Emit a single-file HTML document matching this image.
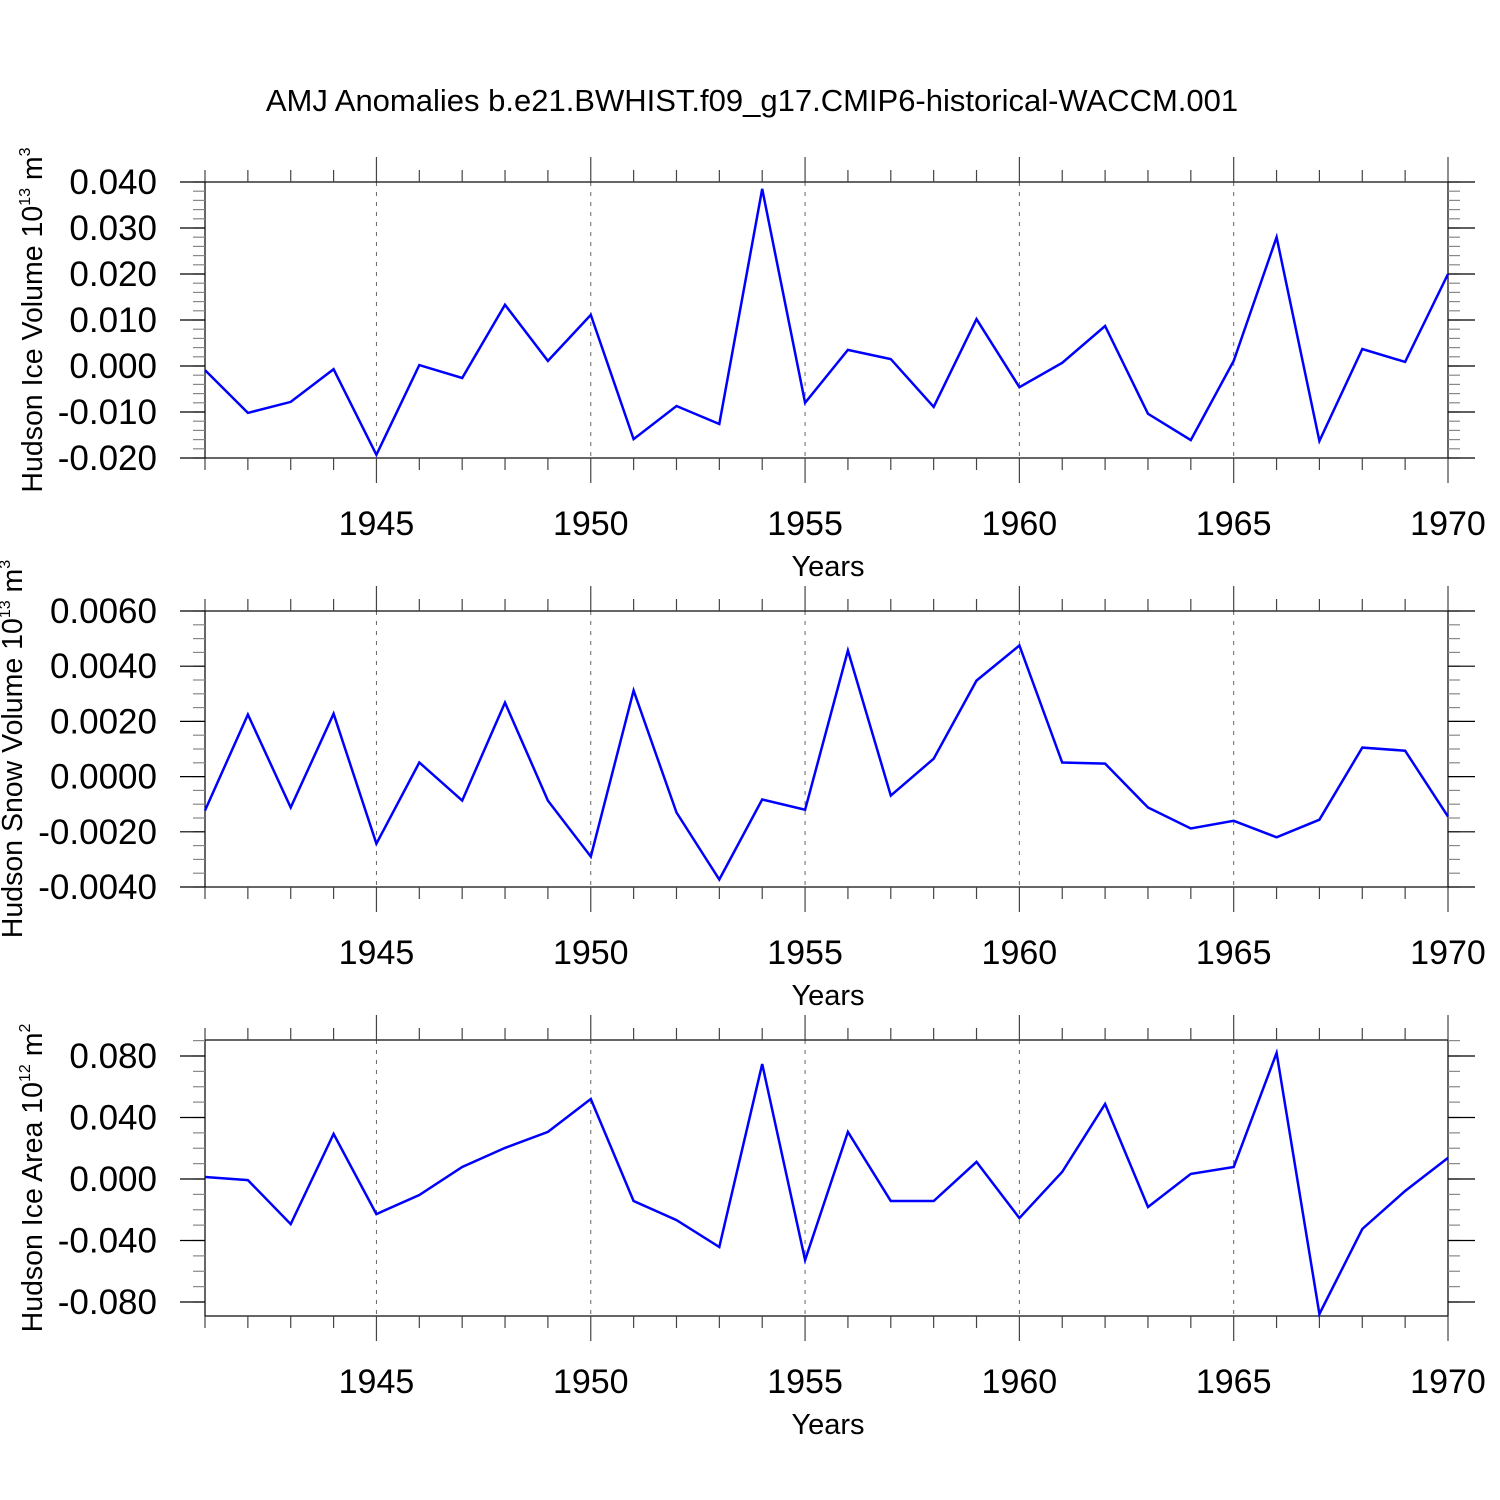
<!DOCTYPE html>
<html><head><meta charset="utf-8"><style>body{margin:0;background:#fff}svg{display:block}text{font-family:"Liberation Sans",sans-serif;fill:#000}</style></head>
<body>
<svg id="c" width="1500" height="1500" viewBox="0 0 1500 1500">
<text x="752" y="111" font-size="31" text-anchor="middle">AMJ Anomalies b.e21.BWHIST.f09_g17.CMIP6-historical-WACCM.001</text>
</svg>
<script>
const years = [1941,1942,1943,1944,1945,1946,1947,1948,1949,1950,1951,1952,1953,1954,1955,1956,1957,1958,1959,1960,1961,1962,1963,1964,1965,1966,1967,1968,1969,1970];
const iceVolume = [-0.0009,-0.0102,-0.0078,-0.0007,-0.0193,0.0002,-0.0026,0.0133,0.0011,0.0111,-0.0159,-0.0087,-0.0126,0.0385,-0.0080,0.0035,0.0015,-0.0089,0.0102,-0.0046,0.0007,0.0087,-0.0104,-0.0161,0.0011,0.0280,-0.0163,0.0037,0.0009,0.0200];
const snowVolume = [-0.00123,0.00225,-0.00112,0.00228,-0.00243,0.00051,-0.00087,0.00268,-0.00087,-0.0029,0.00312,-0.0013,-0.00373,-0.00083,-0.0012,0.00457,-0.00069,0.00065,0.00348,0.00475,0.00051,0.00047,-0.00112,-0.00188,-0.0016,-0.0022,-0.00156,0.00105,0.00094,-0.00145];
const iceArea = [0.0013,-0.0007,-0.0293,0.0293,-0.0228,-0.0104,0.0078,0.0202,0.0306,0.052,-0.0143,-0.0267,-0.0442,0.0748,-0.0527,0.0306,-0.0143,-0.0143,0.0111,-0.0254,0.0046,0.0488,-0.0182,0.0033,0.0078,0.082,-0.0878,-0.0325,-0.0078,0.0137];
const xTickLabels = [1945,1950,1955,1960,1965,1970];
const volTicks = ["0.040","0.030","0.020","0.010","0.000","-0.010","-0.020"];
const snowTicks = ["0.0060","0.0040","0.0020","0.0000","-0.0020","-0.0040"];
const areaTicks = ["0.080","0.040","0.000","-0.040","-0.080"];

const svg = document.getElementById('c');
const NS = 'http://www.w3.org/2000/svg';
function mk(tag, attrs, parent){const e=document.createElementNS(NS,tag);for(const k in attrs)e.setAttribute(k,attrs[k]);(parent||svg).appendChild(e);return e;}
const X0=205, X1=1448;
const xs = y => X0 + (y-1941)*(X1-X0)/29;

function panel(key, top, bot, vTop, vBot, ticks, minorStep, data, ylabelMain, sup, unit, titleX){
  const g = mk('g',{});
  
  
  const ys = v => top + (vTop - v)*(bot-top)/(vTop-vBot);
  for(let yr=1945; yr<=1965; yr+=5){
    const l=mk('line',{x1:xs(yr),x2:xs(yr),y1:top,y2:bot,stroke:'#666','stroke-width':1,'stroke-dasharray':'4,6'},g);
    
    
  }
  mk('rect',{x:X0,y:top,width:X1-X0,height:bot-top,fill:'none',stroke:'#000','stroke-width':1.2},g);
  for(let yr=1941; yr<=1970; yr++){
    const major = yr%5===0, len = major?25:12, x=xs(yr);
    mk('line',{x1:x,x2:x,y1:top-len,y2:top,stroke:'#444','stroke-width':1.2},g);
    mk('line',{x1:x,x2:x,y1:bot,y2:bot+len,stroke:'#444','stroke-width':1.2},g);
  }
  xTickLabels.forEach(yr=>{
    const t=mk('text',{x:xs(yr),y:bot+77,'font-size':34,'text-anchor':'middle'},g);
    t.textContent=yr;
    
    
  });
  const xt=mk('text',{x:828,y:bot+118,'font-size':29,'text-anchor':'middle'},g);
  xt.textContent='Years';
  
  
  const lo=Math.min(vTop,vBot), hi=Math.max(vTop,vBot);
  for(let v=Math.ceil(lo/minorStep-1e-6)*minorStep; v<=hi+1e-9; v+=minorStep){
    const y=ys(v);
    mk('line',{x1:X0-12,x2:X0,y1:y,y2:y,stroke:'#888','stroke-width':1.2},g);
    mk('line',{x1:X1,x2:X1+12,y1:y,y2:y,stroke:'#888','stroke-width':1.2},g);
  }
  ticks.forEach(s=>{
    const y=ys(parseFloat(s));
    mk('line',{x1:X0-25,x2:X0,y1:y,y2:y,stroke:'#000','stroke-width':1.2},g);
    mk('line',{x1:X1,x2:X1+27,y1:y,y2:y,stroke:'#000','stroke-width':1.2},g);
    const t=mk('text',{x:157,y:y+12,'font-size':35,'text-anchor':'end'},g);
    t.textContent=s;
    
    
  });
  const cy=(top+bot)/2;
  const yt=mk('text',{x:0,y:0,'font-size':28.5,'text-anchor':'middle',transform:`translate(${titleX},${cy}) rotate(-90)`},g);
  yt.innerHTML=ylabelMain+' 10<tspan font-size="16" dy="-12">'+sup+'</tspan><tspan dy="12"> '+unit+'</tspan>';
  
  
  const pts=data.map((v,i)=>xs(years[i]).toFixed(1)+','+ys(v).toFixed(1)).join(' ');
  const pl=mk('polyline',{points:pts,fill:'none',stroke:'#0000ff','stroke-width':2.5,'stroke-linejoin':'miter'},g);
  
  
}
panel('ice-volume',182,458,0.040,-0.020,volTicks,0.002,iceVolume,'Hudson Ice Volume','13','m<tspan font-size="16" dy="-12">3</tspan>',42);
panel('snow-volume',611,887,0.0060,-0.0040,snowTicks,0.0005,snowVolume,'Hudson Snow Volume','13','m<tspan font-size="16" dy="-12">3</tspan>',22);
panel('ice-area',1040,1316,0.0904,-0.0891,areaTicks,0.01,iceArea,'Hudson Ice Area','12','m<tspan font-size="16" dy="-12">2</tspan>',42);
</script>
</body></html>
